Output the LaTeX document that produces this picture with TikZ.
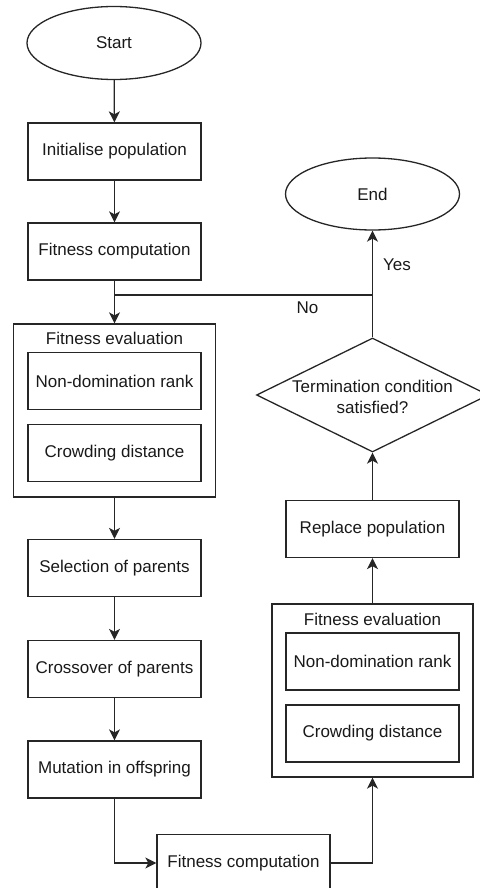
\documentclass[tikz,border=0pt]{standalone}
\usepackage{fontspec}
\setmainfont{Liberation Sans}
\usetikzlibrary{arrows.meta,shapes.geometric}
\begin{document}
\begin{tikzpicture}[x=1pt,y=-1pt,
  every node/.style={font=\fontsize{17}{21}\selectfont, text=black!90},
  stepbox/.style={draw=black!85, line width=1.3pt, rectangle, minimum width=173pt, minimum height=57pt, inner sep=0pt},
  groupbox/.style={draw=black!85, line width=1.3pt, rectangle, inner sep=0pt},
  terminal/.style={draw=black!85, line width=1.3pt, ellipse, minimum width=174pt, minimum height=73pt, inner sep=0pt},
  decision/.style={draw=black!85, line width=1.3pt, diamond, minimum width=232pt, minimum height=114pt, inner sep=0pt},
  flow/.style={line width=1.3pt, draw=black!85, -{Stealth[length=11pt,width=11pt,inset=3pt]}},
  plain/.style={line width=1.3pt, draw=black!85}
]
\useasboundingbox (0,0) rectangle (479,888);

% left column
\node[terminal] (start) at (114,43) {Start};
\node[stepbox] (init) at (114.5,151.5) {Initialise population};
\node[stepbox] (fc1) at (114.5,251.5) {Fitness computation};
\coordinate (join) at (114.5,295);

\node[groupbox, minimum width=202pt, minimum height=173pt] (eval1) at (114.5,410.5) {};
\node (eval1t) at (114.5,338) {Fitness evaluation};
\node[stepbox] (rank1) at (114.5,381) {Non-domination rank};
\node[stepbox] (crowd1) at (114.5,453) {Crowding distance};

\node[stepbox] (sel) at (114.5,568) {Selection of parents};
\node[stepbox] (cross) at (114.5,669) {Crossover of parents};
\node[stepbox] (mut) at (114.5,769.5) {Mutation in offspring};

% bottom and right column
\node[stepbox] (fc2) at (243.5,863) {Fitness computation};
\coordinate (bend1) at (114.5,863);
\coordinate (bend2) at (372.5,863);

\node[groupbox, minimum width=201pt, minimum height=173pt] (eval2) at (372.5,690.5) {};
\node (eval2t) at (372.5,619) {Fitness evaluation};
\node[stepbox] (rank2) at (372.5,661.5) {Non-domination rank};
\node[stepbox] (crowd2) at (372.5,733.5) {Crowding distance};

\node[stepbox] (repl) at (372.5,529) {Replace population};
\node[decision] (dia) at (372.5,395) {};
\node[align=center] (diat) at (372.5,397) {Termination condition\\satisfied?};
\node[terminal, minimum height=72pt] (end) at (372.5,194) {End};
\coordinate (nojoin) at (372.5,295);

% connectors
\draw[flow] (start) -- (init);
\draw[flow] (init) -- (fc1);
\draw[flow] (fc1) -- (eval1);
\draw[flow] (eval1) -- (sel);
\draw[flow] (sel) -- (cross);
\draw[flow] (cross) -- (mut);
\draw[flow] (mut.south) -- (bend1) -- (fc2.west);
\draw[flow] (fc2.east) -- (bend2) -- (eval2.south);
\draw[flow] (eval2) -- (repl);
\draw[flow] (repl) -- (dia.south);
\draw[flow] (dia.north) -- (end.south);
\draw[plain] (nojoin) -- (join);

% branch labels
\node (yes) at (397,265) {Yes};
\node (no) at (307.5,308) {No};
\end{tikzpicture}
\end{document}
